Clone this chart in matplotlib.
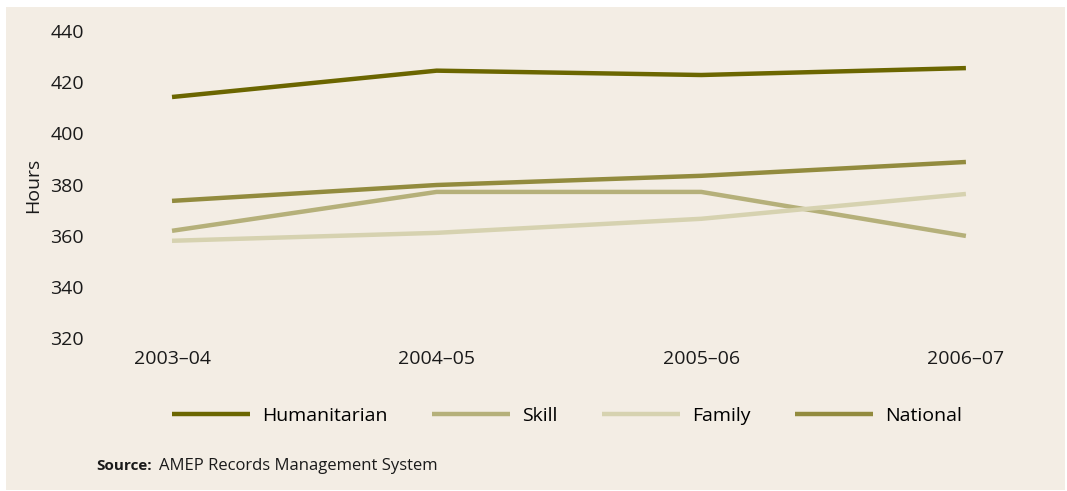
import matplotlib
matplotlib.use("Agg")
import matplotlib.pyplot as plt
from matplotlib.patches import Rectangle

years = ["2003–04", "2004–05", "2005–06", "2006–07"]
humanitarian = [414.2, 424.5, 422.8, 425.5]
skill = [361.9, 377.1, 377.1, 359.9]
family = [358.0, 361.1, 366.6, 376.3]
national = [373.6, 379.8, 383.4, 388.8]

series = [
    ("Humanitarian", humanitarian, "#6b6600"),
    ("Skill", skill, "#b5b07a"),
    ("Family", family, "#d6d2b0"),
    ("National", national, "#928b3e"),
]

plt.rcParams["font.family"] = ["Open Sans", "DejaVu Sans"]
bg = "#f3ede4"

fig = plt.figure(figsize=(10.67, 4.91), dpi=100)
fig.patch.set_facecolor("white")
fig.patches.append(Rectangle((6 / 1067, 1 / 491), 1059 / 1067, 483 / 491,
                             transform=fig.transFigure, facecolor=bg,
                             edgecolor="none", zorder=-5))

ax = fig.add_axes([95 / 1067, 153 / 491, 945 / 1067, 307 / 491])
ax.set_facecolor("none")
x = range(len(years))
for name, vals, col in series:
    ax.plot(x, vals, color=col, linewidth=3.2, label=name,
            solid_capstyle="butt", clip_on=False)

ax.set_xlim(-0.291, 3.28)
ax.set_ylim(320, 440)
ax.set_yticks(range(320, 441, 20))
ax.set_xticks(list(x))
ax.set_xticklabels(years)
ax.tick_params(length=0, labelsize=14, colors="#1a1a1a")
ax.tick_params(axis="x", pad=9)
ax.tick_params(axis="y", pad=8)
for s in ax.spines.values():
    s.set_visible(False)

fig.text(33 / 1067, 1 - 185 / 491, "Hours", rotation=90, fontsize=14,
         ha="center", va="center", color="#1a1a1a")

ax.legend(loc="center left", bbox_to_anchor=(172 / 1067, 1 - 416 / 491),
          bbox_transform=fig.transFigure, ncol=4, frameon=False,
          fontsize=14, handlelength=4.0, handletextpad=0.62,
          columnspacing=2.3, borderaxespad=0, borderpad=0)

fig.text(96 / 1067, 1 - 466 / 491, "Source:", fontsize=11, fontweight="bold",
         va="center", color="#1a1a1a")
fig.text(159 / 1067, 1 - 466 / 491, "AMEP Records Management System",
         fontsize=12, va="center", color="#1a1a1a")

fig.savefig("out.png", dpi=100, facecolor="white")
